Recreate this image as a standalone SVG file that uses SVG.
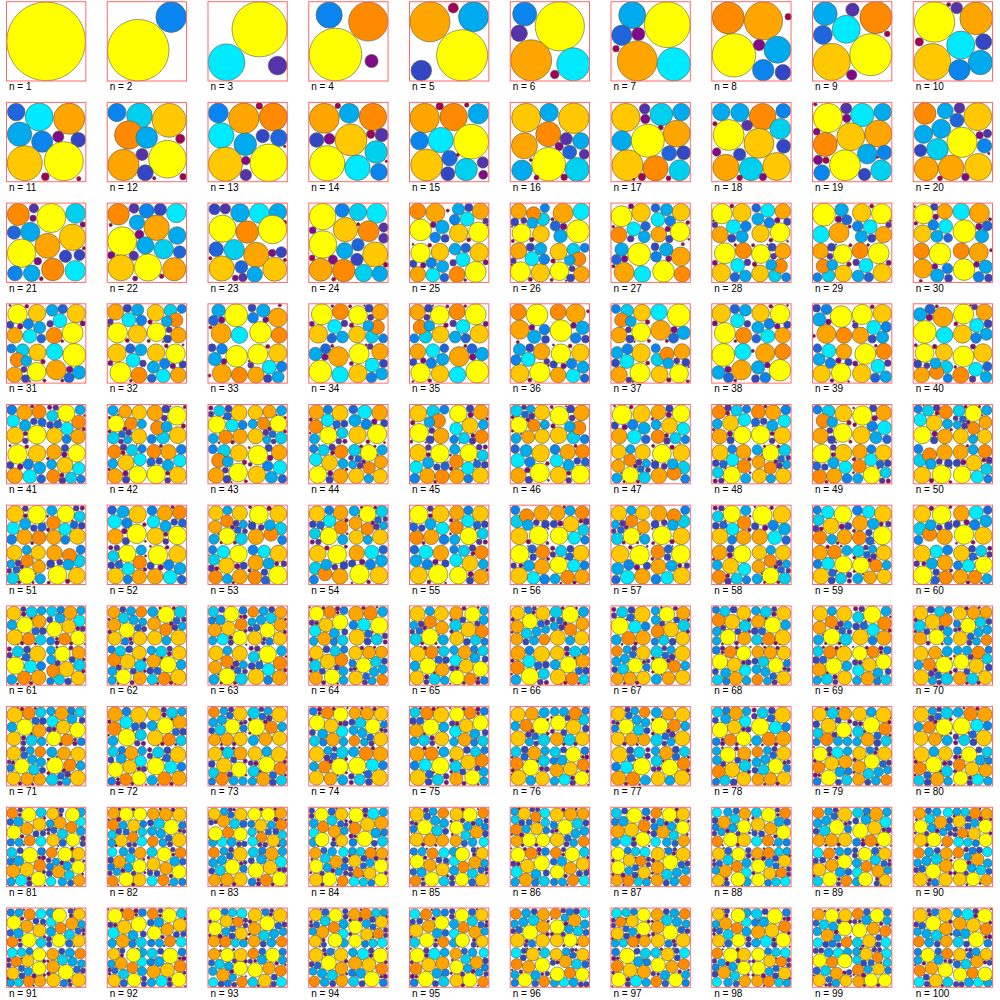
<svg xmlns="http://www.w3.org/2000/svg" width="1000" height="1000" viewBox="0 0 1000 1000">
<style>
circle{stroke:#5a5a48;stroke-width:.6;vector-effect:non-scaling-stroke}
.Y{fill:#ffff00}.G{fill:#ffc800}.O{fill:#ffa500}.D{fill:#ff8a00}.C{fill:#00eaff}.K{fill:#00d0f0}.S{fill:#00aaee}.B{fill:#0a84ee}.R{fill:#1f66dd}.I{fill:#3346c4}.V{fill:#5533aa}.P{fill:#800a8a}.M{fill:#a00055}
.f{fill:none;stroke:#ff6b6b;stroke-width:1}
text{font-family:"Liberation Sans",Arial,sans-serif;font-size:10px;fill:#000}
</style>
<rect width="1000" height="1000" fill="#fff"/>
<defs>
<g id="m7"><use href="#c7" transform="matrix(-1 0 0 1 79.3 0)"/></g>
<g id="m8"><use href="#c8" transform="matrix(-1 0 0 1 79.3 0)"/></g>
<g id="m9"><use href="#c9" transform="matrix(-1 0 0 1 79.3 0)"/></g>
<g id="m10"><use href="#c10" transform="matrix(-1 0 0 1 79.3 0)"/></g>
<g id="m11"><use href="#c11" transform="matrix(-1 0 0 1 79.3 0)"/></g>
<g id="m12"><use href="#c12" transform="matrix(-1 0 0 1 79.3 0)"/></g>
<g id="m13"><use href="#c13" transform="matrix(-1 0 0 1 79.3 0)"/></g>
<g id="m14"><use href="#c14" transform="matrix(-1 0 0 1 79.3 0)"/></g>
<g id="m15"><use href="#c15" transform="matrix(-1 0 0 1 79.3 0)"/></g>
<g id="m16"><use href="#c16" transform="matrix(-1 0 0 1 79.3 0)"/></g>
<g id="m17"><use href="#c17" transform="matrix(-1 0 0 1 79.3 0)"/></g>
<g id="m18"><use href="#c18" transform="matrix(-1 0 0 1 79.3 0)"/></g>
<g id="m19"><use href="#c19" transform="matrix(-1 0 0 1 79.3 0)"/></g>
<g id="m20"><use href="#c20" transform="matrix(-1 0 0 1 79.3 0)"/></g>
<g id="m21"><use href="#c21" transform="matrix(-1 0 0 1 79.3 0)"/></g>
<g id="m22"><use href="#c22" transform="matrix(-1 0 0 1 79.3 0)"/></g>
<g id="m23"><use href="#c23" transform="matrix(-1 0 0 1 79.3 0)"/></g>
<g id="m24"><use href="#c24" transform="matrix(-1 0 0 1 79.3 0)"/></g>
</defs>

<g id="p1" transform="translate(6.5 1.7)"><g id="c1"><circle class="Y" cx="39.65" cy="39.65" r="39.4"/></g><rect class="f" width="79.3" height="79.3"/><text x="2.5" y="88.5">n = 1</text></g>
<g id="p2" transform="translate(107.25 1.7)"><g id="c2"><circle class="Y" cx="31" cy="48.5" r="30.8"/><circle class="B" cx="63.9" cy="15.4" r="15.3"/></g><rect class="f" width="79.3" height="79.3"/><text x="2.5" y="88.5">n = 2</text></g>
<g id="p3" transform="translate(208 1.7)"><g id="c3"><circle class="Y" cx="51.6" cy="27.6" r="27.6"/><circle class="C" cx="18.5" cy="60.6" r="18.4"/><circle class="V" cx="69.6" cy="63.9" r="9.4"/></g><rect class="f" width="79.3" height="79.3"/><text x="2.5" y="88.5">n = 3</text></g>
<g id="p4" transform="translate(308.75 1.7)"><g id="c4"><circle class="B" cx="20.4" cy="13.3" r="13.1"/><circle class="D" cx="59.5" cy="19.8" r="19.6"/><circle class="Y" cx="26.7" cy="52.8" r="26.3"/><circle class="P" cx="62.8" cy="59.3" r="6.6"/></g><rect class="f" width="79.3" height="79.3"/><text x="2.5" y="88.5">n = 4</text></g>
<g id="p5" transform="translate(409.5 1.7)"><g id="c5"><circle class="O" cx="20.5" cy="20.1" r="20"/><circle class="M" cx="43.8" cy="6.3" r="5.1"/><circle class="S" cx="64" cy="15.1" r="15"/><circle class="Y" cx="52.6" cy="53.6" r="25.6"/><circle class="I" cx="11.8" cy="68.8" r="10.3"/></g><rect class="f" width="79.3" height="79.3"/><text x="2.5" y="88.5">n = 5</text></g>
<g id="p6" transform="translate(510.25 1.7)"><g id="c6"><circle class="B" cx="14.4" cy="12.2" r="12"/><circle class="Y" cx="49.6" cy="24.6" r="24.6"/><circle class="V" cx="8.9" cy="31.6" r="8.3"/><circle class="O" cx="20.9" cy="58.6" r="20.5"/><circle class="C" cx="63" cy="62.6" r="16.5"/><circle class="M" cx="44.5" cy="72.8" r="4.3"/></g><rect class="f" width="79.3" height="79.3"/><text x="2.5" y="88.5">n = 6</text></g>
<g id="p7" transform="translate(611 1.7)"><g id="c7"><circle class="S" cx="21.2" cy="13.4" r="13.5"/><circle class="Y" cx="56.3" cy="23" r="22.9"/><circle class="R" cx="10.7" cy="33.6" r="10.2"/><circle class="P" cx="27.3" cy="32.3" r="6.6"/><circle class="M" cx="5" cy="47" r="3.3"/><circle class="O" cx="26.3" cy="59.2" r="20"/><circle class="C" cx="62.8" cy="62.6" r="16.6"/></g><rect class="f" width="79.3" height="79.3"/><text x="2.5" y="88.5">n = 7</text></g>
<g id="p8" transform="translate(711.75 1.7)"><g id="c8"><circle class="D" cx="16.5" cy="16.2" r="16"/><circle class="O" cx="51.7" cy="19.2" r="19.1"/><circle class="M" cx="76.5" cy="15" r="3.3"/><circle class="Y" cx="22.2" cy="53.6" r="21.7"/><circle class="P" cx="47.4" cy="43.3" r="5.8"/><circle class="S" cx="65.7" cy="48" r="13.5"/><circle class="B" cx="51.5" cy="68.4" r="10.7"/><circle class="I" cx="71.2" cy="70.6" r="7.9"/></g><rect class="f" width="79.3" height="79.3"/><text x="2.5" y="88.5">n = 8</text></g>
<g id="p9" transform="translate(812.5 1.7)"><g id="c9"><circle class="S" cx="12.8" cy="12" r="11.9"/><circle class="V" cx="40" cy="8" r="6.7"/><circle class="D" cx="63.5" cy="15.8" r="16.1"/><circle class="C" cx="33.7" cy="27.6" r="14"/><circle class="R" cx="10.3" cy="33.2" r="9.5"/><circle class="M" cx="74.7" cy="32.1" r="2.9"/><circle class="G" cx="19.2" cy="60.2" r="18.5"/><circle class="Y" cx="58.3" cy="53" r="21"/><circle class="P" cx="39.2" cy="73.2" r="5.2"/></g><rect class="f" width="79.3" height="79.3"/><text x="2.5" y="88.5">n = 9</text></g>
<g id="p10" transform="translate(913.25 1.7)"><g id="c10"><circle class="M" cx="35.5" cy="2.8" r="2.1"/><circle class="Y" cx="21.3" cy="20.3" r="20.2"/><circle class="V" cx="43.5" cy="6.2" r="5.9"/><circle class="O" cx="63" cy="16.7" r="16.4"/><circle class="M" cx="6" cy="40.2" r="4.1"/><circle class="C" cx="47.5" cy="43.4" r="14.1"/><circle class="I" cx="70.4" cy="40.1" r="8.1"/><circle class="G" cx="19.2" cy="60.3" r="18.4"/><circle class="S" cx="67.1" cy="60.8" r="12.2"/><circle class="B" cx="46.2" cy="68.3" r="10.6"/></g><rect class="f" width="79.3" height="79.3"/><text x="2.5" y="88.5">n = 10</text></g>

<g id="p11" transform="translate(6.5 102.4)"><g id="c11"><circle class="R" cx="9.7" cy="9.6" r="8.8"/><circle class="C" cx="32.7" cy="14.6" r="14"/><circle class="O" cx="62.7" cy="16.3" r="15.6"/><circle class="S" cx="13" cy="31.8" r="12.2"/><circle class="B" cx="35.7" cy="39.3" r="10.6"/><circle class="P" cx="51.8" cy="34.3" r="5.6"/><circle class="I" cx="71.8" cy="37.4" r="7.4"/><circle class="G" cx="18.3" cy="60.8" r="17.5"/><circle class="Y" cx="57.3" cy="58.8" r="19.5"/><circle class="M" cx="38.8" cy="74.3" r="3.9"/><circle class="M" cx="72.3" cy="76.3" r="2.2"/></g><rect class="f" width="79.3" height="79.3"/><text x="2.5" y="88.5">n = 11</text></g>
<g id="p12" transform="translate(107.25 102.4)"><g id="c12"><circle class="B" cx="9.6" cy="10.1" r="9.2"/><circle class="K" cx="32.2" cy="13.4" r="12.8"/><circle class="G" cx="61.9" cy="17.9" r="16.9"/><circle class="D" cx="21.5" cy="32.6" r="14.2"/><circle class="S" cx="39.5" cy="35.1" r="10.8"/><circle class="M" cx="73" cy="36.4" r="4.6"/><circle class="V" cx="34.8" cy="52.1" r="6.1"/><circle class="Y" cx="60.2" cy="56.8" r="18.8"/><circle class="O" cx="16.2" cy="62.6" r="15.7"/><circle class="I" cx="38" cy="70.4" r="8"/><circle class="M" cx="47" cy="75.8" r="1.7"/><circle class="M" cx="75.8" cy="74.3" r="3.3"/></g><rect class="f" width="79.3" height="79.3"/><text x="2.5" y="88.5">n = 12</text></g>
<g id="p13" transform="translate(208 102.4)"><g id="c13"><circle class="B" cx="10.3" cy="10.6" r="10"/><circle class="O" cx="35.8" cy="15.9" r="15.3"/><circle class="M" cx="51.3" cy="3.6" r="3.3"/><circle class="D" cx="65.3" cy="14.6" r="14"/><circle class="C" cx="13.2" cy="33.1" r="12.8"/><circle class="S" cx="37.3" cy="41.9" r="11.3"/><circle class="I" cx="54.7" cy="33.6" r="6.7"/><circle class="R" cx="71" cy="35.6" r="8.5"/><circle class="M" cx="76.7" cy="43.9" r="1.3"/><circle class="G" cx="17.5" cy="61.8" r="17"/><circle class="Y" cx="60.7" cy="60.4" r="18.7"/><circle class="P" cx="37.8" cy="58.1" r="4.3"/><circle class="V" cx="37.8" cy="72.6" r="5.8"/></g><rect class="f" width="79.3" height="79.3"/><text x="2.5" y="88.5">n = 13</text></g>
<g id="p14" transform="translate(308.75 102.4)"><g id="c14"><circle class="O" cx="15.5" cy="15.9" r="15"/><circle class="M" cx="29" cy="3.4" r="2.8"/><circle class="S" cx="40.5" cy="10.9" r="10"/><circle class="D" cx="64.2" cy="14.6" r="13.7"/><circle class="G" cx="42.2" cy="37.6" r="16"/><circle class="I" cx="7.9" cy="37.6" r="7.3"/><circle class="P" cx="20.7" cy="36.4" r="5.5"/><circle class="M" cx="62" cy="31.8" r="4.2"/><circle class="V" cx="72.9" cy="32.6" r="6.7"/><circle class="K" cx="67.4" cy="49.6" r="11.3"/><circle class="Y" cx="18.4" cy="60.9" r="17.6"/><circle class="C" cx="48.7" cy="65.4" r="12.7"/><circle class="B" cx="70.2" cy="69.6" r="8.5"/><circle class="M" cx="77.5" cy="58.9" r="1.3"/></g><rect class="f" width="79.3" height="79.3"/><text x="2.5" y="88.5">n = 14</text></g>
<g id="p15" transform="translate(409.5 102.4)"><g id="c15"><circle class="O" cx="15.2" cy="15.6" r="14.7"/><circle class="M" cx="30.2" cy="3.9" r="3.7"/><circle class="D" cx="44.2" cy="14.6" r="13.7"/><circle class="M" cx="57.2" cy="2.6" r="2.3"/><circle class="S" cx="68.8" cy="11.3" r="10.2"/><circle class="B" cx="10" cy="38.4" r="9"/><circle class="C" cx="31.3" cy="37.6" r="12.6"/><circle class="Y" cx="61.7" cy="39.3" r="17.4"/><circle class="G" cx="17.2" cy="62.6" r="16"/><circle class="R" cx="40" cy="55.9" r="7.8"/><circle class="M" cx="48.2" cy="52.6" r="1.7"/><circle class="I" cx="38.3" cy="71.3" r="7"/><circle class="K" cx="56.7" cy="67.1" r="11.2"/><circle class="V" cx="73.3" cy="60.1" r="5.7"/><circle class="P" cx="73.7" cy="72.3" r="4.5"/></g><rect class="f" width="79.3" height="79.3"/><text x="2.5" y="88.5">n = 15</text></g>
<g id="p16" transform="translate(510.25 102.4)"><g id="c16"><circle class="G" cx="15.9" cy="15.4" r="14.5"/><circle class="S" cx="38.9" cy="10.1" r="9.2"/><circle class="G" cx="63.5" cy="15.9" r="15.3"/><circle class="O" cx="14.2" cy="43.4" r="13"/><circle class="D" cx="38" cy="31.8" r="12.5"/><circle class="V" cx="56" cy="36.4" r="6.2"/><circle class="S" cx="70.7" cy="38.6" r="8.3"/><circle class="P" cx="48.9" cy="44.1" r="4.2"/><circle class="R" cx="59.4" cy="49.8" r="7"/><circle class="V" cx="74" cy="51.9" r="5"/><circle class="Y" cx="38.4" cy="61.8" r="16.8"/><circle class="S" cx="11.7" cy="67.9" r="10.3"/><circle class="K" cx="66.9" cy="67.1" r="12"/><circle class="M" cx="20.5" cy="57.6" r="1.6"/><circle class="M" cx="26.2" cy="75.1" r="2.5"/><circle class="M" cx="53.9" cy="74.9" r="3.3"/></g><rect class="f" width="79.3" height="79.3"/><text x="2.5" y="88.5">n = 16</text></g>
<g id="p17" transform="translate(611 102.4)"><g id="c17"><circle class="G" cx="14.8" cy="15.1" r="14.2"/><circle class="V" cx="33.7" cy="6.3" r="5.3"/><circle class="P" cx="34.3" cy="16.6" r="4.7"/><circle class="K" cx="50.3" cy="12.1" r="11.3"/><circle class="S" cx="70.3" cy="9.6" r="8.7"/><circle class="M" cx="49.8" cy="25.1" r="2.5"/><circle class="O" cx="65.7" cy="31.3" r="13.5"/><circle class="S" cx="10.7" cy="38.3" r="10"/><circle class="Y" cx="36.8" cy="38.3" r="16.5"/><circle class="R" cx="58.2" cy="50.8" r="7.5"/><circle class="I" cx="72.7" cy="50.4" r="7"/><circle class="G" cx="16.5" cy="62.9" r="15.6"/><circle class="D" cx="44.5" cy="65.9" r="12.6"/><circle class="K" cx="68.5" cy="67.9" r="10.5"/><circle class="M" cx="31" cy="74.6" r="3.7"/><circle class="M" cx="57.5" cy="75.8" r="2.5"/><circle class="M" cx="22.8" cy="77.1" r="1.2"/></g><rect class="f" width="79.3" height="79.3"/><text x="2.5" y="88.5">n = 17</text></g>
<g id="p18" transform="translate(711.75 102.4)"><g id="c18"><circle class="S" cx="9.5" cy="9.6" r="8.7"/><circle class="S" cx="28.2" cy="10.1" r="9.2"/><circle class="D" cx="50.9" cy="14.3" r="13.3"/><circle class="B" cx="71.5" cy="8.4" r="7.4"/><circle class="K" cx="68.5" cy="26.4" r="10.4"/><circle class="M" cx="3.2" cy="21.4" r="2.3"/><circle class="Y" cx="16.9" cy="32.6" r="15.5"/><circle class="V" cx="35.4" cy="22.9" r="5.4"/><circle class="G" cx="47.2" cy="40.9" r="15"/><circle class="I" cx="71.9" cy="43.9" r="7"/><circle class="P" cx="4.9" cy="49.6" r="4.3"/><circle class="I" cx="27.9" cy="52.1" r="6.2"/><circle class="O" cx="14.2" cy="65.1" r="13.2"/><circle class="K" cx="39.2" cy="66.6" r="11.7"/><circle class="G" cx="64.9" cy="64.1" r="14"/><circle class="M" cx="27.9" cy="75.4" r="2.9"/><circle class="P" cx="51.2" cy="74.6" r="3.7"/></g><rect class="f" width="79.3" height="79.3"/><text x="2.5" y="88.5">n = 18</text></g>
<g id="p19" transform="translate(812.5 102.4)"><g id="c19"><circle class="M" cx="2.8" cy="1.9" r="1.8"/><circle class="Y" cx="15.5" cy="15.6" r="14.7"/><circle class="V" cx="33.7" cy="5.9" r="5.6"/><circle class="P" cx="34.2" cy="15.9" r="4.2"/><circle class="C" cx="49.8" cy="12.6" r="11.7"/><circle class="S" cx="70.3" cy="9.6" r="8.8"/><circle class="P" cx="4.2" cy="29.3" r="3.4"/><circle class="D" cx="12.8" cy="42.1" r="12"/><circle class="G" cx="38.3" cy="34.3" r="14"/><circle class="O" cx="65.8" cy="31.3" r="13.5"/><circle class="S" cx="54.8" cy="51.6" r="10"/><circle class="B" cx="72" cy="50.1" r="7.3"/><circle class="P" cx="5.5" cy="57.6" r="4.7"/><circle class="M" cx="13.5" cy="57.9" r="3.2"/><circle class="Y" cx="32.5" cy="62.9" r="15.5"/><circle class="B" cx="9.2" cy="70.4" r="8"/><circle class="I" cx="52" cy="72.1" r="6.2"/><circle class="K" cx="68.7" cy="67.9" r="10.5"/><circle class="M" cx="64.8" cy="54.9" r="1.3"/></g><rect class="f" width="79.3" height="79.3"/><text x="2.5" y="88.5">n = 19</text></g>
<g id="p20" transform="translate(913.25 102.4)"><g id="c20"><circle class="D" cx="11.9" cy="11.1" r="10.8"/><circle class="S" cx="32" cy="8.4" r="8"/><circle class="V" cx="46.2" cy="5.6" r="5.4"/><circle class="R" cx="43.7" cy="17.9" r="7"/><circle class="G" cx="64.5" cy="14.3" r="14"/><circle class="S" cx="10.2" cy="31.8" r="9.2"/><circle class="S" cx="27.9" cy="26.4" r="9.5"/><circle class="Y" cx="48.7" cy="39.9" r="15.2"/><circle class="P" cx="66.4" cy="32.9" r="3.7"/><circle class="V" cx="74.2" cy="31.1" r="4.2"/><circle class="B" cx="71.2" cy="43.4" r="7.3"/><circle class="K" cx="24.2" cy="46.8" r="10.8"/><circle class="I" cx="7.2" cy="48.1" r="6.2"/><circle class="M" cx="75.5" cy="51.1" r="1.2"/><circle class="O" cx="13" cy="66.3" r="12"/><circle class="O" cx="37.9" cy="65.4" r="12.8"/><circle class="G" cx="65" cy="64.6" r="13.6"/><circle class="M" cx="26.7" cy="75.9" r="2.5"/><circle class="P" cx="52.2" cy="74.6" r="3.8"/></g><rect class="f" width="79.3" height="79.3"/><text x="2.5" y="88.5">n = 20</text></g>

<g id="p21" transform="translate(6.5 203.1)"><g id="c21"><circle class="D" cx="11.8" cy="11.4" r="11"/><circle class="V" cx="27.3" cy="5.2" r="4.7"/><circle class="P" cx="26.5" cy="15.2" r="3.2"/><circle class="Y" cx="44.7" cy="14.9" r="14.6"/><circle class="K" cx="69.2" cy="10.2" r="10"/><circle class="P" cx="76.3" cy="21.4" r="2.8"/><circle class="R" cx="7.5" cy="29.4" r="6.8"/><circle class="S" cx="23.8" cy="28.9" r="9.7"/><circle class="G" cx="66" cy="34.2" r="13.2"/><circle class="Y" cx="15" cy="50.1" r="14.2"/><circle class="O" cx="41" cy="42.7" r="12.5"/><circle class="I" cx="59" cy="53.2" r="6.2"/><circle class="I" cx="73" cy="51.9" r="5.6"/><circle class="P" cx="31.3" cy="58.1" r="3.8"/><circle class="D" cx="46.3" cy="66.4" r="11.2"/><circle class="B" cx="8.5" cy="70.2" r="7.5"/><circle class="S" cx="25.2" cy="70.2" r="8.3"/><circle class="C" cx="68.8" cy="67.7" r="10.3"/><circle class="M" cx="34.8" cy="75.6" r="2"/><circle class="M" cx="77.5" cy="45.2" r="1.7"/></g><rect class="f" width="79.3" height="79.3"/><text x="2.5" y="88.5">n = 21</text></g>
<g id="p22" transform="translate(107.25 203.1)"><g id="c22"><circle class="D" cx="11.2" cy="11.1" r="10.8"/><circle class="V" cx="26.7" cy="5.2" r="5"/><circle class="B" cx="39.4" cy="7.7" r="7.4"/><circle class="I" cx="53" cy="6.4" r="6.3"/><circle class="C" cx="69" cy="9.9" r="9.7"/><circle class="S" cx="29.7" cy="19.4" r="7.6"/><circle class="O" cx="49.4" cy="24.7" r="12.7"/><circle class="M" cx="3.4" cy="21.9" r="1.7"/><circle class="Y" cx="14.9" cy="38.1" r="14.5"/><circle class="P" cx="32.2" cy="31.4" r="4.5"/><circle class="S" cx="69.9" cy="32.4" r="8.8"/><circle class="S" cx="38" cy="42.4" r="8.7"/><circle class="K" cx="56.4" cy="46.1" r="9.8"/><circle class="R" cx="72.4" cy="48.9" r="6.3"/><circle class="P" cx="4" cy="52.2" r="3.7"/><circle class="V" cx="26.5" cy="52.7" r="4.7"/><circle class="G" cx="13.7" cy="64.7" r="13"/><circle class="Y" cx="40.7" cy="64.4" r="13.6"/><circle class="O" cx="67" cy="66.1" r="11.6"/><circle class="P" cx="27.9" cy="75.4" r="2.5"/><circle class="M" cx="54.4" cy="73.2" r="2.3"/></g><rect class="f" width="79.3" height="79.3"/><text x="2.5" y="88.5">n = 22</text></g>
<g id="p23" transform="translate(208 203.1)"><g id="c23"><circle class="I" cx="6.5" cy="6.1" r="5.6"/><circle class="V" cx="17.3" cy="5.6" r="5.3"/><circle class="S" cx="32" cy="9.7" r="9.3"/><circle class="C" cx="51.3" cy="10.2" r="10"/><circle class="S" cx="70" cy="8.9" r="8.7"/><circle class="M" cx="76.2" cy="19.4" r="2.5"/><circle class="Y" cx="14.5" cy="25.6" r="13.6"/><circle class="D" cx="39.2" cy="28.9" r="11.3"/><circle class="Y" cx="64.5" cy="26.4" r="14.3"/><circle class="R" cx="8.2" cy="46.1" r="7.4"/><circle class="K" cx="26.2" cy="46.6" r="10.2"/><circle class="O" cx="48.3" cy="51.8" r="12.6"/><circle class="P" cx="64.2" cy="49.9" r="3.7"/><circle class="I" cx="73.3" cy="49.1" r="5.5"/><circle class="M" cx="2.3" cy="55.2" r="1.7"/><circle class="M" cx="77" cy="56.9" r="1.7"/><circle class="G" cx="13.7" cy="65.4" r="12.6"/><circle class="R" cx="33.3" cy="63.9" r="6.5"/><circle class="S" cx="46.7" cy="71.3" r="7.8"/><circle class="G" cx="66.7" cy="66.1" r="12"/><circle class="P" cx="27.3" cy="74.9" r="3"/><circle class="V" cx="34.8" cy="74.4" r="4.3"/></g><rect class="f" width="79.3" height="79.3"/><text x="2.5" y="88.5">n = 23</text></g>
<g id="p24" transform="translate(308.75 203.1)"><g id="c24"><circle class="Y" cx="13.9" cy="13.6" r="13.3"/><circle class="B" cx="33.4" cy="7.2" r="7"/><circle class="K" cx="49.2" cy="8.9" r="8.7"/><circle class="C" cx="67.9" cy="10.2" r="10"/><circle class="P" cx="3.9" cy="27.2" r="3.5"/><circle class="G" cx="36.7" cy="26.4" r="12.2"/><circle class="M" cx="49.5" cy="21.2" r="1.7"/><circle class="D" cx="59.9" cy="28.1" r="10.5"/><circle class="V" cx="74.9" cy="24.4" r="4.7"/><circle class="V" cx="74.9" cy="35.2" r="5"/><circle class="Y" cx="14.2" cy="41.4" r="13.8"/><circle class="R" cx="49.2" cy="41.6" r="6.3"/><circle class="S" cx="35.9" cy="47.7" r="8.2"/><circle class="G" cx="66.4" cy="51.4" r="12.6"/><circle class="I" cx="48.2" cy="56.4" r="6.2"/><circle class="M" cx="3.4" cy="54.9" r="2.9"/><circle class="P" cx="24.2" cy="56.6" r="4.7"/><circle class="O" cx="11.9" cy="66.6" r="11.5"/><circle class="D" cx="35" cy="67.4" r="11.2"/><circle class="K" cx="54.9" cy="69.9" r="8.7"/><circle class="S" cx="71.2" cy="70.7" r="7.8"/><circle class="M" cx="77" cy="61.7" r="2.5"/><circle class="M" cx="24.9" cy="76.2" r="2"/></g><rect class="f" width="79.3" height="79.3"/><text x="2.5" y="88.5">n = 24</text></g>

<g id="p25" transform="translate(409.5 203.1)"><use href="#c8" transform="scale(.5)"/><use href="#m10" transform="translate(39.65) scale(.5) rotate(90 39.65 39.65)"/><use href="#c11" transform="translate(0 39.65) scale(.5) rotate(180 39.65 39.65)"/><use href="#m9" transform="translate(39.65 39.65) scale(.5) rotate(270 39.65 39.65)"/><rect class="f" width="79.3" height="79.3"/><text x="2.5" y="88.5">n = 25</text></g>
<g id="p26" transform="translate(510.25 203.1)"><use href="#c12" transform="scale(.5) rotate(90 39.65 39.65)"/><use href="#m7" transform="translate(39.65) scale(.5) rotate(180 39.65 39.65)"/><use href="#c10" transform="translate(0 39.65) scale(.5) rotate(270 39.65 39.65)"/><use href="#m12" transform="translate(39.65 39.65) scale(.5)"/><rect class="f" width="79.3" height="79.3"/><text x="2.5" y="88.5">n = 26</text></g>
<g id="p27" transform="translate(611 203.1)"><use href="#c9" transform="scale(.5) rotate(180 39.65 39.65)"/><use href="#m11" transform="translate(39.65) scale(.5) rotate(270 39.65 39.65)"/><use href="#c7" transform="translate(0 39.65) scale(.5)"/><use href="#m8" transform="translate(39.65 39.65) scale(.5) rotate(90 39.65 39.65)"/><rect class="f" width="79.3" height="79.3"/><text x="2.5" y="88.5">n = 27</text></g>
<g id="p28" transform="translate(711.75 203.1)"><use href="#m10" transform="scale(.5) rotate(270 39.65 39.65)"/><use href="#c11" transform="translate(39.65) scale(.5)"/><use href="#m9" transform="translate(0 39.65) scale(.5) rotate(90 39.65 39.65)"/><use href="#c12" transform="translate(39.65 39.65) scale(.5) rotate(180 39.65 39.65)"/><rect class="f" width="79.3" height="79.3"/><text x="2.5" y="88.5">n = 28</text></g>
<g id="p29" transform="translate(812.5 203.1)"><use href="#m7" transform="scale(.5)"/><use href="#c10" transform="translate(39.65) scale(.5) rotate(90 39.65 39.65)"/><use href="#m12" transform="translate(0 39.65) scale(.5) rotate(180 39.65 39.65)"/><use href="#c9" transform="translate(39.65 39.65) scale(.5) rotate(270 39.65 39.65)"/><rect class="f" width="79.3" height="79.3"/><text x="2.5" y="88.5">n = 29</text></g>
<g id="p30" transform="translate(913.25 203.1)"><use href="#m11" transform="scale(.5) rotate(90 39.65 39.65)"/><use href="#c7" transform="translate(39.65) scale(.5) rotate(180 39.65 39.65)"/><use href="#m8" transform="translate(0 39.65) scale(.5) rotate(270 39.65 39.65)"/><use href="#c8" transform="translate(39.65 39.65) scale(.5)"/><rect class="f" width="79.3" height="79.3"/><text x="2.5" y="88.5">n = 30</text></g>

<g id="p31" transform="translate(6.5 303.8)"><use href="#c11" transform="scale(.5) rotate(180 39.65 39.65)"/><use href="#m9" transform="translate(39.65) scale(.5) rotate(270 39.65 39.65)"/><use href="#c12" transform="translate(0 39.65) scale(.5)"/><use href="#m7" transform="translate(39.65 39.65) scale(.5) rotate(90 39.65 39.65)"/><rect class="f" width="79.3" height="79.3"/><text x="2.5" y="88.5">n = 31</text></g>
<g id="p32" transform="translate(107.25 303.8)"><use href="#c10" transform="scale(.5) rotate(270 39.65 39.65)"/><use href="#m12" transform="translate(39.65) scale(.5)"/><use href="#c9" transform="translate(0 39.65) scale(.5) rotate(90 39.65 39.65)"/><use href="#m11" transform="translate(39.65 39.65) scale(.5) rotate(180 39.65 39.65)"/><rect class="f" width="79.3" height="79.3"/><text x="2.5" y="88.5">n = 32</text></g>
<g id="p33" transform="translate(208 303.8)"><use href="#c7" transform="scale(.5)"/><use href="#m8" transform="translate(39.65) scale(.5) rotate(90 39.65 39.65)"/><use href="#c8" transform="translate(0 39.65) scale(.5) rotate(180 39.65 39.65)"/><use href="#m10" transform="translate(39.65 39.65) scale(.5) rotate(270 39.65 39.65)"/><rect class="f" width="79.3" height="79.3"/><text x="2.5" y="88.5">n = 33</text></g>
<g id="p34" transform="translate(308.75 303.8)"><use href="#m9" transform="scale(.5) rotate(90 39.65 39.65)"/><use href="#c12" transform="translate(39.65) scale(.5) rotate(180 39.65 39.65)"/><use href="#m7" transform="translate(0 39.65) scale(.5) rotate(270 39.65 39.65)"/><use href="#c10" transform="translate(39.65 39.65) scale(.5)"/><rect class="f" width="79.3" height="79.3"/><text x="2.5" y="88.5">n = 34</text></g>
<g id="p35" transform="translate(409.5 303.8)"><use href="#m12" transform="scale(.5) rotate(180 39.65 39.65)"/><use href="#c9" transform="translate(39.65) scale(.5) rotate(270 39.65 39.65)"/><use href="#m11" transform="translate(0 39.65) scale(.5)"/><use href="#c7" transform="translate(39.65 39.65) scale(.5) rotate(90 39.65 39.65)"/><rect class="f" width="79.3" height="79.3"/><text x="2.5" y="88.5">n = 35</text></g>
<g id="p36" transform="translate(510.25 303.8)"><use href="#m8" transform="scale(.5) rotate(270 39.65 39.65)"/><use href="#c8" transform="translate(39.65) scale(.5)"/><use href="#m10" transform="translate(0 39.65) scale(.5) rotate(90 39.65 39.65)"/><use href="#c11" transform="translate(39.65 39.65) scale(.5) rotate(180 39.65 39.65)"/><rect class="f" width="79.3" height="79.3"/><text x="2.5" y="88.5">n = 36</text></g>
<g id="p37" transform="translate(611 303.8)"><use href="#c12" transform="scale(.5)"/><use href="#m7" transform="translate(39.65) scale(.5) rotate(90 39.65 39.65)"/><use href="#c10" transform="translate(0 39.65) scale(.5) rotate(180 39.65 39.65)"/><use href="#m12" transform="translate(39.65 39.65) scale(.5) rotate(270 39.65 39.65)"/><rect class="f" width="79.3" height="79.3"/><text x="2.5" y="88.5">n = 37</text></g>
<g id="p38" transform="translate(711.75 303.8)"><use href="#c9" transform="scale(.5) rotate(90 39.65 39.65)"/><use href="#m11" transform="translate(39.65) scale(.5) rotate(180 39.65 39.65)"/><use href="#c7" transform="translate(0 39.65) scale(.5) rotate(270 39.65 39.65)"/><use href="#m8" transform="translate(39.65 39.65) scale(.5)"/><rect class="f" width="79.3" height="79.3"/><text x="2.5" y="88.5">n = 38</text></g>
<g id="p39" transform="translate(812.5 303.8)"><use href="#c8" transform="scale(.5) rotate(180 39.65 39.65)"/><use href="#m10" transform="translate(39.65) scale(.5) rotate(270 39.65 39.65)"/><use href="#c11" transform="translate(0 39.65) scale(.5)"/><use href="#m9" transform="translate(39.65 39.65) scale(.5) rotate(90 39.65 39.65)"/><rect class="f" width="79.3" height="79.3"/><text x="2.5" y="88.5">n = 39</text></g>
<g id="p40" transform="translate(913.25 303.8)"><use href="#m7" transform="scale(.5) rotate(270 39.65 39.65)"/><use href="#c10" transform="translate(39.65) scale(.5)"/><use href="#m12" transform="translate(0 39.65) scale(.5) rotate(90 39.65 39.65)"/><use href="#c9" transform="translate(39.65 39.65) scale(.5) rotate(180 39.65 39.65)"/><rect class="f" width="79.3" height="79.3"/><text x="2.5" y="88.5">n = 40</text></g>

<g id="p41" transform="translate(6.5 404.5)"><use href="#c13" transform="scale(.5)"/><use href="#m15" transform="translate(39.65) scale(.5) rotate(90 39.65 39.65)"/><use href="#c11" transform="translate(0 39.65) scale(.5) rotate(180 39.65 39.65)"/><use href="#m14" transform="translate(39.65 39.65) scale(.5) rotate(270 39.65 39.65)"/><rect class="f" width="79.3" height="79.3"/><text x="2.5" y="88.5">n = 41</text></g>
<g id="p42" transform="translate(107.25 404.5)"><use href="#c16" transform="scale(.5) rotate(90 39.65 39.65)"/><use href="#m12" transform="translate(39.65) scale(.5) rotate(180 39.65 39.65)"/><use href="#c14" transform="translate(0 39.65) scale(.5) rotate(270 39.65 39.65)"/><use href="#m13" transform="translate(39.65 39.65) scale(.5)"/><rect class="f" width="79.3" height="79.3"/><text x="2.5" y="88.5">n = 42</text></g>
<g id="p43" transform="translate(208 404.5)"><use href="#c15" transform="scale(.5) rotate(180 39.65 39.65)"/><use href="#m16" transform="translate(39.65) scale(.5) rotate(270 39.65 39.65)"/><use href="#c12" transform="translate(0 39.65) scale(.5)"/><use href="#m11" transform="translate(39.65 39.65) scale(.5) rotate(90 39.65 39.65)"/><rect class="f" width="79.3" height="79.3"/><text x="2.5" y="88.5">n = 43</text></g>
<g id="p44" transform="translate(308.75 404.5)"><use href="#m15" transform="scale(.5) rotate(270 39.65 39.65)"/><use href="#c11" transform="translate(39.65) scale(.5)"/><use href="#m14" transform="translate(0 39.65) scale(.5) rotate(90 39.65 39.65)"/><use href="#c16" transform="translate(39.65 39.65) scale(.5) rotate(180 39.65 39.65)"/><rect class="f" width="79.3" height="79.3"/><text x="2.5" y="88.5">n = 44</text></g>
<g id="p45" transform="translate(409.5 404.5)"><use href="#m12" transform="scale(.5)"/><use href="#c14" transform="translate(39.65) scale(.5) rotate(90 39.65 39.65)"/><use href="#m13" transform="translate(0 39.65) scale(.5) rotate(180 39.65 39.65)"/><use href="#c15" transform="translate(39.65 39.65) scale(.5) rotate(270 39.65 39.65)"/><rect class="f" width="79.3" height="79.3"/><text x="2.5" y="88.5">n = 45</text></g>
<g id="p46" transform="translate(510.25 404.5)"><use href="#m16" transform="scale(.5) rotate(90 39.65 39.65)"/><use href="#c12" transform="translate(39.65) scale(.5) rotate(180 39.65 39.65)"/><use href="#m11" transform="translate(0 39.65) scale(.5) rotate(270 39.65 39.65)"/><use href="#c13" transform="translate(39.65 39.65) scale(.5)"/><rect class="f" width="79.3" height="79.3"/><text x="2.5" y="88.5">n = 46</text></g>
<g id="p47" transform="translate(611 404.5)"><use href="#c11" transform="scale(.5) rotate(180 39.65 39.65)"/><use href="#m14" transform="translate(39.65) scale(.5) rotate(270 39.65 39.65)"/><use href="#c16" transform="translate(0 39.65) scale(.5)"/><use href="#m12" transform="translate(39.65 39.65) scale(.5) rotate(90 39.65 39.65)"/><rect class="f" width="79.3" height="79.3"/><text x="2.5" y="88.5">n = 47</text></g>
<g id="p48" transform="translate(711.75 404.5)"><use href="#c14" transform="scale(.5) rotate(270 39.65 39.65)"/><use href="#m13" transform="translate(39.65) scale(.5)"/><use href="#c15" transform="translate(0 39.65) scale(.5) rotate(90 39.65 39.65)"/><use href="#m16" transform="translate(39.65 39.65) scale(.5) rotate(180 39.65 39.65)"/><rect class="f" width="79.3" height="79.3"/><text x="2.5" y="88.5">n = 48</text></g>
<g id="p49" transform="translate(812.5 404.5)"><use href="#c12" transform="scale(.5)"/><use href="#m11" transform="translate(39.65) scale(.5) rotate(90 39.65 39.65)"/><use href="#c13" transform="translate(0 39.65) scale(.5) rotate(180 39.65 39.65)"/><use href="#m15" transform="translate(39.65 39.65) scale(.5) rotate(270 39.65 39.65)"/><rect class="f" width="79.3" height="79.3"/><text x="2.5" y="88.5">n = 49</text></g>
<g id="p50" transform="translate(913.25 404.5)"><use href="#m14" transform="scale(.5) rotate(90 39.65 39.65)"/><use href="#c16" transform="translate(39.65) scale(.5) rotate(180 39.65 39.65)"/><use href="#m12" transform="translate(0 39.65) scale(.5) rotate(270 39.65 39.65)"/><use href="#c14" transform="translate(39.65 39.65) scale(.5)"/><rect class="f" width="79.3" height="79.3"/><text x="2.5" y="88.5">n = 50</text></g>

<g id="p51" transform="translate(6.5 505.2)"><use href="#m13" transform="scale(.5) rotate(180 39.65 39.65)"/><use href="#c15" transform="translate(39.65) scale(.5) rotate(270 39.65 39.65)"/><use href="#m16" transform="translate(0 39.65) scale(.5)"/><use href="#c12" transform="translate(39.65 39.65) scale(.5) rotate(90 39.65 39.65)"/><rect class="f" width="79.3" height="79.3"/><text x="2.5" y="88.5">n = 51</text></g>
<g id="p52" transform="translate(107.25 505.2)"><use href="#m11" transform="scale(.5) rotate(270 39.65 39.65)"/><use href="#c13" transform="translate(39.65) scale(.5)"/><use href="#m15" transform="translate(0 39.65) scale(.5) rotate(90 39.65 39.65)"/><use href="#c11" transform="translate(39.65 39.65) scale(.5) rotate(180 39.65 39.65)"/><rect class="f" width="79.3" height="79.3"/><text x="2.5" y="88.5">n = 52</text></g>
<g id="p53" transform="translate(208 505.2)"><use href="#c16" transform="scale(.5)"/><use href="#m12" transform="translate(39.65) scale(.5) rotate(90 39.65 39.65)"/><use href="#c14" transform="translate(0 39.65) scale(.5) rotate(180 39.65 39.65)"/><use href="#m13" transform="translate(39.65 39.65) scale(.5) rotate(270 39.65 39.65)"/><rect class="f" width="79.3" height="79.3"/><text x="2.5" y="88.5">n = 53</text></g>
<g id="p54" transform="translate(308.75 505.2)"><use href="#c15" transform="scale(.5) rotate(90 39.65 39.65)"/><use href="#m16" transform="translate(39.65) scale(.5) rotate(180 39.65 39.65)"/><use href="#c12" transform="translate(0 39.65) scale(.5) rotate(270 39.65 39.65)"/><use href="#m11" transform="translate(39.65 39.65) scale(.5)"/><rect class="f" width="79.3" height="79.3"/><text x="2.5" y="88.5">n = 54</text></g>
<g id="p55" transform="translate(409.5 505.2)"><use href="#c13" transform="scale(.5) rotate(180 39.65 39.65)"/><use href="#m15" transform="translate(39.65) scale(.5) rotate(270 39.65 39.65)"/><use href="#c11" transform="translate(0 39.65) scale(.5)"/><use href="#m14" transform="translate(39.65 39.65) scale(.5) rotate(90 39.65 39.65)"/><rect class="f" width="79.3" height="79.3"/><text x="2.5" y="88.5">n = 55</text></g>
<g id="p56" transform="translate(510.25 505.2)"><use href="#m12" transform="scale(.5) rotate(270 39.65 39.65)"/><use href="#c14" transform="translate(39.65) scale(.5)"/><use href="#m13" transform="translate(0 39.65) scale(.5) rotate(90 39.65 39.65)"/><use href="#c15" transform="translate(39.65 39.65) scale(.5) rotate(180 39.65 39.65)"/><rect class="f" width="79.3" height="79.3"/><text x="2.5" y="88.5">n = 56</text></g>
<g id="p57" transform="translate(611 505.2)"><use href="#m16" transform="scale(.5)"/><use href="#c12" transform="translate(39.65) scale(.5) rotate(90 39.65 39.65)"/><use href="#m11" transform="translate(0 39.65) scale(.5) rotate(180 39.65 39.65)"/><use href="#c13" transform="translate(39.65 39.65) scale(.5) rotate(270 39.65 39.65)"/><rect class="f" width="79.3" height="79.3"/><text x="2.5" y="88.5">n = 57</text></g>
<g id="p58" transform="translate(711.75 505.2)"><use href="#m15" transform="scale(.5) rotate(90 39.65 39.65)"/><use href="#c11" transform="translate(39.65) scale(.5) rotate(180 39.65 39.65)"/><use href="#m14" transform="translate(0 39.65) scale(.5) rotate(270 39.65 39.65)"/><use href="#c16" transform="translate(39.65 39.65) scale(.5)"/><rect class="f" width="79.3" height="79.3"/><text x="2.5" y="88.5">n = 58</text></g>
<g id="p59" transform="translate(812.5 505.2)"><use href="#c14" transform="scale(.5) rotate(180 39.65 39.65)"/><use href="#m13" transform="translate(39.65) scale(.5) rotate(270 39.65 39.65)"/><use href="#c15" transform="translate(0 39.65) scale(.5)"/><use href="#m16" transform="translate(39.65 39.65) scale(.5) rotate(90 39.65 39.65)"/><rect class="f" width="79.3" height="79.3"/><text x="2.5" y="88.5">n = 59</text></g>
<g id="p60" transform="translate(913.25 505.2)"><use href="#c12" transform="scale(.5) rotate(270 39.65 39.65)"/><use href="#m11" transform="translate(39.65) scale(.5)"/><use href="#c13" transform="translate(0 39.65) scale(.5) rotate(90 39.65 39.65)"/><use href="#m15" transform="translate(39.65 39.65) scale(.5) rotate(180 39.65 39.65)"/><rect class="f" width="79.3" height="79.3"/><text x="2.5" y="88.5">n = 60</text></g>

<g id="p61" transform="translate(6.5 605.9)"><use href="#c17" transform="scale(.5)"/><use href="#m19" transform="translate(39.65) scale(.5) rotate(90 39.65 39.65)"/><use href="#c15" transform="translate(0 39.65) scale(.5) rotate(180 39.65 39.65)"/><use href="#m18" transform="translate(39.65 39.65) scale(.5) rotate(270 39.65 39.65)"/><rect class="f" width="79.3" height="79.3"/><text x="2.5" y="88.5">n = 61</text></g>
<g id="p62" transform="translate(107.25 605.9)"><use href="#c20" transform="scale(.5) rotate(90 39.65 39.65)"/><use href="#m16" transform="translate(39.65) scale(.5) rotate(180 39.65 39.65)"/><use href="#c18" transform="translate(0 39.65) scale(.5) rotate(270 39.65 39.65)"/><use href="#m17" transform="translate(39.65 39.65) scale(.5)"/><rect class="f" width="79.3" height="79.3"/><text x="2.5" y="88.5">n = 62</text></g>
<g id="p63" transform="translate(208 605.9)"><use href="#c19" transform="scale(.5) rotate(180 39.65 39.65)"/><use href="#m20" transform="translate(39.65) scale(.5) rotate(270 39.65 39.65)"/><use href="#c16" transform="translate(0 39.65) scale(.5)"/><use href="#m15" transform="translate(39.65 39.65) scale(.5) rotate(90 39.65 39.65)"/><rect class="f" width="79.3" height="79.3"/><text x="2.5" y="88.5">n = 63</text></g>
<g id="p64" transform="translate(308.75 605.9)"><use href="#m19" transform="scale(.5) rotate(270 39.65 39.65)"/><use href="#c15" transform="translate(39.65) scale(.5)"/><use href="#m18" transform="translate(0 39.65) scale(.5) rotate(90 39.65 39.65)"/><use href="#c20" transform="translate(39.65 39.65) scale(.5) rotate(180 39.65 39.65)"/><rect class="f" width="79.3" height="79.3"/><text x="2.5" y="88.5">n = 64</text></g>
<g id="p65" transform="translate(409.5 605.9)"><use href="#m16" transform="scale(.5)"/><use href="#c18" transform="translate(39.65) scale(.5) rotate(90 39.65 39.65)"/><use href="#m17" transform="translate(0 39.65) scale(.5) rotate(180 39.65 39.65)"/><use href="#c19" transform="translate(39.65 39.65) scale(.5) rotate(270 39.65 39.65)"/><rect class="f" width="79.3" height="79.3"/><text x="2.5" y="88.5">n = 65</text></g>
<g id="p66" transform="translate(510.25 605.9)"><use href="#m20" transform="scale(.5) rotate(90 39.65 39.65)"/><use href="#c16" transform="translate(39.65) scale(.5) rotate(180 39.65 39.65)"/><use href="#m15" transform="translate(0 39.65) scale(.5) rotate(270 39.65 39.65)"/><use href="#c17" transform="translate(39.65 39.65) scale(.5)"/><rect class="f" width="79.3" height="79.3"/><text x="2.5" y="88.5">n = 66</text></g>
<g id="p67" transform="translate(611 605.9)"><use href="#c15" transform="scale(.5) rotate(180 39.65 39.65)"/><use href="#m18" transform="translate(39.65) scale(.5) rotate(270 39.65 39.65)"/><use href="#c20" transform="translate(0 39.65) scale(.5)"/><use href="#m16" transform="translate(39.65 39.65) scale(.5) rotate(90 39.65 39.65)"/><rect class="f" width="79.3" height="79.3"/><text x="2.5" y="88.5">n = 67</text></g>
<g id="p68" transform="translate(711.75 605.9)"><use href="#c18" transform="scale(.5) rotate(270 39.65 39.65)"/><use href="#m17" transform="translate(39.65) scale(.5)"/><use href="#c19" transform="translate(0 39.65) scale(.5) rotate(90 39.65 39.65)"/><use href="#m20" transform="translate(39.65 39.65) scale(.5) rotate(180 39.65 39.65)"/><rect class="f" width="79.3" height="79.3"/><text x="2.5" y="88.5">n = 68</text></g>
<g id="p69" transform="translate(812.5 605.9)"><use href="#c16" transform="scale(.5)"/><use href="#m15" transform="translate(39.65) scale(.5) rotate(90 39.65 39.65)"/><use href="#c17" transform="translate(0 39.65) scale(.5) rotate(180 39.65 39.65)"/><use href="#m19" transform="translate(39.65 39.65) scale(.5) rotate(270 39.65 39.65)"/><rect class="f" width="79.3" height="79.3"/><text x="2.5" y="88.5">n = 69</text></g>
<g id="p70" transform="translate(913.25 605.9)"><use href="#m18" transform="scale(.5) rotate(90 39.65 39.65)"/><use href="#c20" transform="translate(39.65) scale(.5) rotate(180 39.65 39.65)"/><use href="#m16" transform="translate(0 39.65) scale(.5) rotate(270 39.65 39.65)"/><use href="#c18" transform="translate(39.65 39.65) scale(.5)"/><rect class="f" width="79.3" height="79.3"/><text x="2.5" y="88.5">n = 70</text></g>

<g id="p71" transform="translate(6.5 706.6)"><use href="#m17" transform="scale(.5) rotate(180 39.65 39.65)"/><use href="#c19" transform="translate(39.65) scale(.5) rotate(270 39.65 39.65)"/><use href="#m20" transform="translate(0 39.65) scale(.5)"/><use href="#c16" transform="translate(39.65 39.65) scale(.5) rotate(90 39.65 39.65)"/><rect class="f" width="79.3" height="79.3"/><text x="2.5" y="88.5">n = 71</text></g>
<g id="p72" transform="translate(107.25 706.6)"><use href="#m15" transform="scale(.5) rotate(270 39.65 39.65)"/><use href="#c17" transform="translate(39.65) scale(.5)"/><use href="#m19" transform="translate(0 39.65) scale(.5) rotate(90 39.65 39.65)"/><use href="#c15" transform="translate(39.65 39.65) scale(.5) rotate(180 39.65 39.65)"/><rect class="f" width="79.3" height="79.3"/><text x="2.5" y="88.5">n = 72</text></g>
<g id="p73" transform="translate(208 706.6)"><use href="#c20" transform="scale(.5)"/><use href="#m16" transform="translate(39.65) scale(.5) rotate(90 39.65 39.65)"/><use href="#c18" transform="translate(0 39.65) scale(.5) rotate(180 39.65 39.65)"/><use href="#m17" transform="translate(39.65 39.65) scale(.5) rotate(270 39.65 39.65)"/><rect class="f" width="79.3" height="79.3"/><text x="2.5" y="88.5">n = 73</text></g>
<g id="p74" transform="translate(308.75 706.6)"><use href="#c19" transform="scale(.5) rotate(90 39.65 39.65)"/><use href="#m20" transform="translate(39.65) scale(.5) rotate(180 39.65 39.65)"/><use href="#c16" transform="translate(0 39.65) scale(.5) rotate(270 39.65 39.65)"/><use href="#m15" transform="translate(39.65 39.65) scale(.5)"/><rect class="f" width="79.3" height="79.3"/><text x="2.5" y="88.5">n = 74</text></g>
<g id="p75" transform="translate(409.5 706.6)"><use href="#c17" transform="scale(.5) rotate(180 39.65 39.65)"/><use href="#m19" transform="translate(39.65) scale(.5) rotate(270 39.65 39.65)"/><use href="#c15" transform="translate(0 39.65) scale(.5)"/><use href="#m18" transform="translate(39.65 39.65) scale(.5) rotate(90 39.65 39.65)"/><rect class="f" width="79.3" height="79.3"/><text x="2.5" y="88.5">n = 75</text></g>
<g id="p76" transform="translate(510.25 706.6)"><use href="#m16" transform="scale(.5) rotate(270 39.65 39.65)"/><use href="#c18" transform="translate(39.65) scale(.5)"/><use href="#m17" transform="translate(0 39.65) scale(.5) rotate(90 39.65 39.65)"/><use href="#c19" transform="translate(39.65 39.65) scale(.5) rotate(180 39.65 39.65)"/><rect class="f" width="79.3" height="79.3"/><text x="2.5" y="88.5">n = 76</text></g>
<g id="p77" transform="translate(611 706.6)"><use href="#m20" transform="scale(.5)"/><use href="#c16" transform="translate(39.65) scale(.5) rotate(90 39.65 39.65)"/><use href="#m15" transform="translate(0 39.65) scale(.5) rotate(180 39.65 39.65)"/><use href="#c17" transform="translate(39.65 39.65) scale(.5) rotate(270 39.65 39.65)"/><rect class="f" width="79.3" height="79.3"/><text x="2.5" y="88.5">n = 77</text></g>
<g id="p78" transform="translate(711.75 706.6)"><use href="#m19" transform="scale(.5) rotate(90 39.65 39.65)"/><use href="#c15" transform="translate(39.65) scale(.5) rotate(180 39.65 39.65)"/><use href="#m18" transform="translate(0 39.65) scale(.5) rotate(270 39.65 39.65)"/><use href="#c20" transform="translate(39.65 39.65) scale(.5)"/><rect class="f" width="79.3" height="79.3"/><text x="2.5" y="88.5">n = 78</text></g>
<g id="p79" transform="translate(812.5 706.6)"><use href="#c18" transform="scale(.5) rotate(180 39.65 39.65)"/><use href="#m17" transform="translate(39.65) scale(.5) rotate(270 39.65 39.65)"/><use href="#c19" transform="translate(0 39.65) scale(.5)"/><use href="#m20" transform="translate(39.65 39.65) scale(.5) rotate(90 39.65 39.65)"/><rect class="f" width="79.3" height="79.3"/><text x="2.5" y="88.5">n = 79</text></g>
<g id="p80" transform="translate(913.25 706.6)"><use href="#c16" transform="scale(.5) rotate(270 39.65 39.65)"/><use href="#m15" transform="translate(39.65) scale(.5)"/><use href="#c17" transform="translate(0 39.65) scale(.5) rotate(90 39.65 39.65)"/><use href="#m19" transform="translate(39.65 39.65) scale(.5) rotate(180 39.65 39.65)"/><rect class="f" width="79.3" height="79.3"/><text x="2.5" y="88.5">n = 80</text></g>

<g id="p81" transform="translate(6.5 807.3)"><use href="#c21" transform="scale(.5)"/><use href="#m23" transform="translate(39.65) scale(.5) rotate(90 39.65 39.65)"/><use href="#c19" transform="translate(0 39.65) scale(.5) rotate(180 39.65 39.65)"/><use href="#m22" transform="translate(39.65 39.65) scale(.5) rotate(270 39.65 39.65)"/><rect class="f" width="79.3" height="79.3"/><text x="2.5" y="88.5">n = 81</text></g>
<g id="p82" transform="translate(107.25 807.3)"><use href="#c24" transform="scale(.5) rotate(90 39.65 39.65)"/><use href="#m20" transform="translate(39.65) scale(.5) rotate(180 39.65 39.65)"/><use href="#c22" transform="translate(0 39.65) scale(.5) rotate(270 39.65 39.65)"/><use href="#m21" transform="translate(39.65 39.65) scale(.5)"/><rect class="f" width="79.3" height="79.3"/><text x="2.5" y="88.5">n = 82</text></g>
<g id="p83" transform="translate(208 807.3)"><use href="#c23" transform="scale(.5) rotate(180 39.65 39.65)"/><use href="#m24" transform="translate(39.65) scale(.5) rotate(270 39.65 39.65)"/><use href="#c20" transform="translate(0 39.65) scale(.5)"/><use href="#m19" transform="translate(39.65 39.65) scale(.5) rotate(90 39.65 39.65)"/><rect class="f" width="79.3" height="79.3"/><text x="2.5" y="88.5">n = 83</text></g>
<g id="p84" transform="translate(308.75 807.3)"><use href="#m23" transform="scale(.5) rotate(270 39.65 39.65)"/><use href="#c19" transform="translate(39.65) scale(.5)"/><use href="#m22" transform="translate(0 39.65) scale(.5) rotate(90 39.65 39.65)"/><use href="#c24" transform="translate(39.65 39.65) scale(.5) rotate(180 39.65 39.65)"/><rect class="f" width="79.3" height="79.3"/><text x="2.5" y="88.5">n = 84</text></g>
<g id="p85" transform="translate(409.5 807.3)"><use href="#m20" transform="scale(.5)"/><use href="#c22" transform="translate(39.65) scale(.5) rotate(90 39.65 39.65)"/><use href="#m21" transform="translate(0 39.65) scale(.5) rotate(180 39.65 39.65)"/><use href="#c23" transform="translate(39.65 39.65) scale(.5) rotate(270 39.65 39.65)"/><rect class="f" width="79.3" height="79.3"/><text x="2.5" y="88.5">n = 85</text></g>
<g id="p86" transform="translate(510.25 807.3)"><use href="#m24" transform="scale(.5) rotate(90 39.65 39.65)"/><use href="#c20" transform="translate(39.65) scale(.5) rotate(180 39.65 39.65)"/><use href="#m19" transform="translate(0 39.65) scale(.5) rotate(270 39.65 39.65)"/><use href="#c21" transform="translate(39.65 39.65) scale(.5)"/><rect class="f" width="79.3" height="79.3"/><text x="2.5" y="88.5">n = 86</text></g>
<g id="p87" transform="translate(611 807.3)"><use href="#c19" transform="scale(.5) rotate(180 39.65 39.65)"/><use href="#m22" transform="translate(39.65) scale(.5) rotate(270 39.65 39.65)"/><use href="#c24" transform="translate(0 39.65) scale(.5)"/><use href="#m20" transform="translate(39.65 39.65) scale(.5) rotate(90 39.65 39.65)"/><rect class="f" width="79.3" height="79.3"/><text x="2.5" y="88.5">n = 87</text></g>
<g id="p88" transform="translate(711.75 807.3)"><use href="#c22" transform="scale(.5) rotate(270 39.65 39.65)"/><use href="#m21" transform="translate(39.65) scale(.5)"/><use href="#c23" transform="translate(0 39.65) scale(.5) rotate(90 39.65 39.65)"/><use href="#m24" transform="translate(39.65 39.65) scale(.5) rotate(180 39.65 39.65)"/><rect class="f" width="79.3" height="79.3"/><text x="2.5" y="88.5">n = 88</text></g>
<g id="p89" transform="translate(812.5 807.3)"><use href="#c20" transform="scale(.5)"/><use href="#m19" transform="translate(39.65) scale(.5) rotate(90 39.65 39.65)"/><use href="#c21" transform="translate(0 39.65) scale(.5) rotate(180 39.65 39.65)"/><use href="#m23" transform="translate(39.65 39.65) scale(.5) rotate(270 39.65 39.65)"/><rect class="f" width="79.3" height="79.3"/><text x="2.5" y="88.5">n = 89</text></g>
<g id="p90" transform="translate(913.25 807.3)"><use href="#m22" transform="scale(.5) rotate(90 39.65 39.65)"/><use href="#c24" transform="translate(39.65) scale(.5) rotate(180 39.65 39.65)"/><use href="#m20" transform="translate(0 39.65) scale(.5) rotate(270 39.65 39.65)"/><use href="#c22" transform="translate(39.65 39.65) scale(.5)"/><rect class="f" width="79.3" height="79.3"/><text x="2.5" y="88.5">n = 90</text></g>

<g id="p91" transform="translate(6.5 908)"><use href="#m21" transform="scale(.5) rotate(180 39.65 39.65)"/><use href="#c23" transform="translate(39.65) scale(.5) rotate(270 39.65 39.65)"/><use href="#m24" transform="translate(0 39.65) scale(.5)"/><use href="#c20" transform="translate(39.65 39.65) scale(.5) rotate(90 39.65 39.65)"/><rect class="f" width="79.3" height="79.3"/><text x="2.5" y="88.5">n = 91</text></g>
<g id="p92" transform="translate(107.25 908)"><use href="#m19" transform="scale(.5) rotate(270 39.65 39.65)"/><use href="#c21" transform="translate(39.65) scale(.5)"/><use href="#m23" transform="translate(0 39.65) scale(.5) rotate(90 39.65 39.65)"/><use href="#c19" transform="translate(39.65 39.65) scale(.5) rotate(180 39.65 39.65)"/><rect class="f" width="79.3" height="79.3"/><text x="2.5" y="88.5">n = 92</text></g>
<g id="p93" transform="translate(208 908)"><use href="#c24" transform="scale(.5)"/><use href="#m20" transform="translate(39.65) scale(.5) rotate(90 39.65 39.65)"/><use href="#c22" transform="translate(0 39.65) scale(.5) rotate(180 39.65 39.65)"/><use href="#m21" transform="translate(39.65 39.65) scale(.5) rotate(270 39.65 39.65)"/><rect class="f" width="79.3" height="79.3"/><text x="2.5" y="88.5">n = 93</text></g>
<g id="p94" transform="translate(308.75 908)"><use href="#c23" transform="scale(.5) rotate(90 39.65 39.65)"/><use href="#m24" transform="translate(39.65) scale(.5) rotate(180 39.65 39.65)"/><use href="#c20" transform="translate(0 39.65) scale(.5) rotate(270 39.65 39.65)"/><use href="#m19" transform="translate(39.65 39.65) scale(.5)"/><rect class="f" width="79.3" height="79.3"/><text x="2.5" y="88.5">n = 94</text></g>
<g id="p95" transform="translate(409.5 908)"><use href="#c21" transform="scale(.5) rotate(180 39.65 39.65)"/><use href="#m23" transform="translate(39.65) scale(.5) rotate(270 39.65 39.65)"/><use href="#c19" transform="translate(0 39.65) scale(.5)"/><use href="#m22" transform="translate(39.65 39.65) scale(.5) rotate(90 39.65 39.65)"/><rect class="f" width="79.3" height="79.3"/><text x="2.5" y="88.5">n = 95</text></g>
<g id="p96" transform="translate(510.25 908)"><use href="#m20" transform="scale(.5) rotate(270 39.65 39.65)"/><use href="#c22" transform="translate(39.65) scale(.5)"/><use href="#m21" transform="translate(0 39.65) scale(.5) rotate(90 39.65 39.65)"/><use href="#c23" transform="translate(39.65 39.65) scale(.5) rotate(180 39.65 39.65)"/><rect class="f" width="79.3" height="79.3"/><text x="2.5" y="88.5">n = 96</text></g>
<g id="p97" transform="translate(611 908)"><use href="#m24" transform="scale(.5)"/><use href="#c20" transform="translate(39.65) scale(.5) rotate(90 39.65 39.65)"/><use href="#m19" transform="translate(0 39.65) scale(.5) rotate(180 39.65 39.65)"/><use href="#c21" transform="translate(39.65 39.65) scale(.5) rotate(270 39.65 39.65)"/><rect class="f" width="79.3" height="79.3"/><text x="2.5" y="88.5">n = 97</text></g>
<g id="p98" transform="translate(711.75 908)"><use href="#m23" transform="scale(.5) rotate(90 39.65 39.65)"/><use href="#c19" transform="translate(39.65) scale(.5) rotate(180 39.65 39.65)"/><use href="#m22" transform="translate(0 39.65) scale(.5) rotate(270 39.65 39.65)"/><use href="#c24" transform="translate(39.65 39.65) scale(.5)"/><rect class="f" width="79.3" height="79.3"/><text x="2.5" y="88.5">n = 98</text></g>
<g id="p99" transform="translate(812.5 908)"><use href="#c22" transform="scale(.5) rotate(180 39.65 39.65)"/><use href="#m21" transform="translate(39.65) scale(.5) rotate(270 39.65 39.65)"/><use href="#c23" transform="translate(0 39.65) scale(.5)"/><use href="#m24" transform="translate(39.65 39.65) scale(.5) rotate(90 39.65 39.65)"/><rect class="f" width="79.3" height="79.3"/><text x="2.5" y="88.5">n = 99</text></g>
<g id="p100" transform="translate(913.25 908)"><use href="#c20" transform="scale(.5) rotate(270 39.65 39.65)"/><use href="#m19" transform="translate(39.65) scale(.5)"/><use href="#c21" transform="translate(0 39.65) scale(.5) rotate(90 39.65 39.65)"/><use href="#m23" transform="translate(39.65 39.65) scale(.5) rotate(180 39.65 39.65)"/><rect class="f" width="79.3" height="79.3"/><text x="2.5" y="88.5">n = 100</text></g>
</svg>
